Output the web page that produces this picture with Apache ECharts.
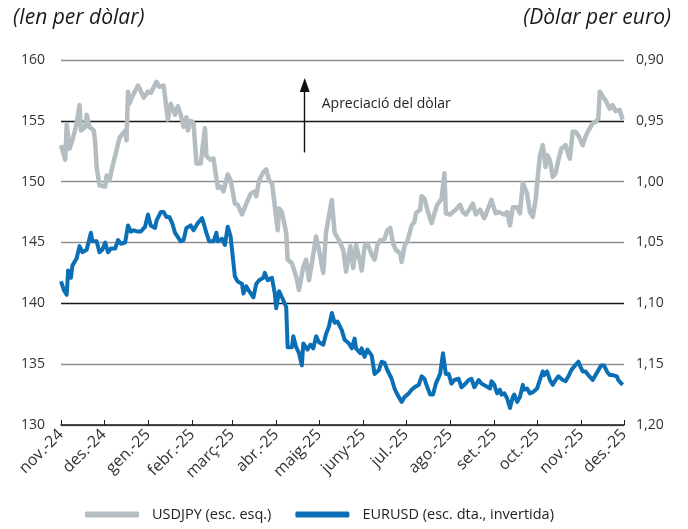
<!DOCTYPE html>
<html>
<head>
<meta charset="utf-8">
<script src="https://cdn.jsdelivr.net/npm/echarts@6/dist/echarts.min.js"></script>
<style>
    html, body {margin: 0; padding: 0; background: #fff;}
    #chart {width: 688px; height: 529px;}
</style>
</head>
<body>
<div id="chart"></div>
<script>
var monthLabels = ['nov.-24', 'des.-24', 'gen.-25', 'febr.-25', 'març-25', 'abr.-25', 'maig-25',
    'juny-25', 'jul.-25', 'ago.-25', 'set.-25', 'oct.-25', 'nov.-25', 'des.-25'];

// USDJPY, escala esquerra
var jpyDates = [
    '2024-11-01', '2024-11-04', '2024-11-05', '2024-11-07', '2024-11-09', '2024-11-12', '2024-11-14', '2024-11-15',
    '2024-11-18', '2024-11-19', '2024-11-21', '2024-11-24', '2024-11-25', '2024-11-26', '2024-11-28', '2024-12-02',
    '2024-12-03', '2024-12-05', '2024-12-07', '2024-12-10', '2024-12-12', '2024-12-16', '2024-12-17', '2024-12-18',
    '2024-12-19', '2024-12-21', '2024-12-25', '2024-12-26', '2024-12-29', '2025-01-01', '2025-01-03', '2025-01-07',
    '2025-01-09', '2025-01-12', '2025-01-15', '2025-01-17', '2025-01-20', '2025-01-22', '2025-01-24', '2025-01-26',
    '2025-01-28', '2025-01-29', '2025-01-31', '2025-02-02', '2025-02-04', '2025-02-07', '2025-02-10', '2025-02-11',
    '2025-02-14', '2025-02-16', '2025-02-19', '2025-02-21', '2025-02-23', '2025-02-26', '2025-02-28', '2025-03-03',
    '2025-03-05', '2025-03-08', '2025-03-11', '2025-03-14', '2025-03-17', '2025-03-18', '2025-03-20', '2025-03-23',
    '2025-03-25', '2025-03-27', '2025-03-29', '2025-03-31', '2025-04-02', '2025-04-03', '2025-04-05', '2025-04-08',
    '2025-04-09', '2025-04-12', '2025-04-13', '2025-04-15', '2025-04-17', '2025-04-20', '2025-04-22', '2025-04-24',
    '2025-04-26', '2025-04-29', '2025-05-01', '2025-05-04', '2025-05-06', '2025-05-07', '2025-05-10', '2025-05-12',
    '2025-05-15', '2025-05-18', '2025-05-20', '2025-05-23', '2025-05-25', '2025-05-27', '2025-05-30', '2025-05-31',
    '2025-06-02', '2025-06-04', '2025-06-07', '2025-06-09', '2025-06-11', '2025-06-13', '2025-06-16', '2025-06-18',
    '2025-06-20', '2025-06-22', '2025-06-24', '2025-06-27', '2025-06-28', '2025-06-30', '2025-07-02', '2025-07-05',
    '2025-07-07', '2025-07-08', '2025-07-11', '2025-07-12', '2025-07-14', '2025-07-16', '2025-07-19', '2025-07-21',
    '2025-07-23', '2025-07-26', '2025-07-28', '2025-07-29', '2025-08-01', '2025-08-03', '2025-08-05', '2025-08-08',
    '2025-08-10', '2025-08-12', '2025-08-15', '2025-08-17', '2025-08-19', '2025-08-22', '2025-08-25', '2025-08-28',
    '2025-08-30', '2025-09-02', '2025-09-04', '2025-09-06', '2025-09-08', '2025-09-10', '2025-09-12', '2025-09-14',
    '2025-09-17', '2025-09-19', '2025-09-21', '2025-09-24', '2025-09-26', '2025-09-28', '2025-09-30', '2025-10-02',
    '2025-10-03', '2025-10-05', '2025-10-07', '2025-10-08', '2025-10-10', '2025-10-12', '2025-10-14', '2025-10-16',
    '2025-10-18', '2025-10-21', '2025-10-23', '2025-10-24', '2025-10-26', '2025-10-28', '2025-10-30', '2025-11-02',
    '2025-11-04', '2025-11-06', '2025-11-09', '2025-11-11', '2025-11-13', '2025-11-14', '2025-11-16', '2025-11-18',
    '2025-11-19', '2025-11-21', '2025-11-23', '2025-11-25', '2025-11-28', '2025-11-30'
];
var jpyValues = [
    153.0, 151.8, 154.7, 152.7, 153.4, 154.8, 156.3, 154.2,
    154.5, 155.5, 154.5, 154.2, 153.2, 151.2, 149.7, 149.6,
    150.5, 150.1, 151.2, 152.6, 153.6, 154.2, 153.4, 157.4,
    156.4, 157.0, 157.9, 157.7, 156.9, 157.4, 157.3, 158.2,
    157.8, 157.9, 155.1, 156.4, 155.5, 156.2, 155.5, 154.5,
    155.3, 154.2, 155.0, 154.8, 151.5, 151.5, 154.4, 152.1,
    151.8, 151.9, 149.5, 149.6, 149.2, 150.6, 150.1, 148.2,
    148.1, 147.3, 148.2, 149.0, 149.2, 148.8, 150.1, 150.8,
    151.0, 150.1, 149.9, 148.0, 146.0, 147.8, 147.5, 145.8,
    143.6, 143.3, 143.2, 142.2, 141.1, 143.0, 143.6, 141.9,
    143.3, 145.5, 144.4, 142.5, 145.9, 146.0, 148.5, 145.8,
    145.2, 144.4, 142.6, 144.7, 142.9, 144.8, 143.3, 142.7,
    144.7, 144.9, 144.0, 143.6, 144.8, 145.2, 145.3, 146.0,
    146.2, 144.9, 144.4, 144.1, 143.4, 144.7, 145.1, 146.4,
    146.7, 147.4, 147.7, 148.8, 148.6, 147.7, 146.6, 147.4,
    148.1, 148.6, 150.7, 147.4, 147.3, 147.5, 147.7, 148.1,
    147.5, 147.3, 147.8, 148.2, 147.3, 147.7, 147.0, 147.9,
    148.5, 147.4, 147.5, 147.4, 147.3, 147.5, 146.4, 147.9,
    147.9, 147.4, 149.9, 149.0, 147.5, 147.1, 148.5, 151.0,
    152.1, 153.0, 151.2, 152.2, 151.8, 150.4, 150.7, 151.8,
    152.7, 153.0, 152.2, 151.9, 154.1, 154.1, 153.8, 153.0,
    153.7, 154.2, 154.8, 154.9, 155.2, 157.4, 157.0, 156.7,
    156.8, 156.0, 156.3, 155.8, 155.9, 155.1
];

// EURUSD, escala dreta invertida
var eurDates = [
    '2024-11-01', '2024-11-03', '2024-11-05', '2024-11-06', '2024-11-08', '2024-11-09', '2024-11-12', '2024-11-14',
    '2024-11-16', '2024-11-19', '2024-11-22', '2024-11-23', '2024-11-26', '2024-11-28', '2024-11-30', '2024-12-02',
    '2024-12-04', '2024-12-06', '2024-12-09', '2024-12-11', '2024-12-13', '2024-12-16', '2024-12-18', '2024-12-20',
    '2024-12-22', '2024-12-25', '2024-12-27', '2024-12-30', '2025-01-01', '2025-01-03', '2025-01-06', '2025-01-07',
    '2025-01-10', '2025-01-12', '2025-01-14', '2025-01-16', '2025-01-18', '2025-01-20', '2025-01-21', '2025-01-24',
    '2025-01-26', '2025-01-28', '2025-01-31', '2025-02-02', '2025-02-05', '2025-02-08', '2025-02-11', '2025-02-13',
    '2025-02-16', '2025-02-18', '2025-02-19', '2025-02-22', '2025-02-24', '2025-02-26', '2025-02-28', '2025-03-03',
    '2025-03-05', '2025-03-08', '2025-03-09', '2025-03-11', '2025-03-13', '2025-03-16', '2025-03-18', '2025-03-20',
    '2025-03-23', '2025-03-24', '2025-03-26', '2025-03-29', '2025-03-31', '2025-04-01', '2025-04-03', '2025-04-05',
    '2025-04-08', '2025-04-09', '2025-04-12', '2025-04-13', '2025-04-15', '2025-04-17', '2025-04-19', '2025-04-20',
    '2025-04-23', '2025-04-25', '2025-04-27', '2025-04-29', '2025-05-01', '2025-05-04', '2025-05-06', '2025-05-08',
    '2025-05-10', '2025-05-12', '2025-05-14', '2025-05-17', '2025-05-19', '2025-05-22', '2025-05-24', '2025-05-26',
    '2025-05-27', '2025-05-30', '2025-05-31', '2025-06-02', '2025-06-04', '2025-06-07', '2025-06-09', '2025-06-12',
    '2025-06-14', '2025-06-16', '2025-06-18', '2025-06-21', '2025-06-23', '2025-06-25', '2025-06-28', '2025-06-30',
    '2025-07-03', '2025-07-05', '2025-07-07', '2025-07-10', '2025-07-12', '2025-07-14', '2025-07-16', '2025-07-18',
    '2025-07-20', '2025-07-22', '2025-07-25', '2025-07-27', '2025-07-29', '2025-07-31', '2025-08-02', '2025-08-04',
    '2025-08-07', '2025-08-09', '2025-08-11', '2025-08-14', '2025-08-16', '2025-08-18', '2025-08-21', '2025-08-23',
    '2025-08-26', '2025-08-29', '2025-08-30', '2025-09-01', '2025-09-03', '2025-09-05', '2025-09-06', '2025-09-08',
    '2025-09-10', '2025-09-12', '2025-09-14', '2025-09-15', '2025-09-17', '2025-09-19', '2025-09-21', '2025-09-22',
    '2025-09-24', '2025-09-26', '2025-09-28', '2025-10-01', '2025-10-03', '2025-10-05', '2025-10-06', '2025-10-08',
    '2025-10-10', '2025-10-12', '2025-10-14', '2025-10-16', '2025-10-19', '2025-10-21', '2025-10-23', '2025-10-25',
    '2025-10-27', '2025-10-30', '2025-10-31', '2025-11-02', '2025-11-04', '2025-11-06', '2025-11-09', '2025-11-11',
    '2025-11-13', '2025-11-15', '2025-11-17', '2025-11-19', '2025-11-21', '2025-11-23', '2025-11-26', '2025-11-27',
    '2025-11-30'
];
var eurValues = [
    1.082, 1.089, 1.093, 1.073, 1.079, 1.069, 1.063, 1.053,
    1.058, 1.056, 1.042, 1.049, 1.049, 1.058, 1.056, 1.050,
    1.058, 1.055, 1.055, 1.048, 1.051, 1.050, 1.036, 1.041,
    1.040, 1.041, 1.041, 1.037, 1.027, 1.036, 1.038, 1.032,
    1.025, 1.025, 1.029, 1.029, 1.034, 1.042, 1.041, 1.049,
    1.048, 1.038, 1.036, 1.040, 1.034, 1.030, 1.042, 1.049,
    1.049, 1.042, 1.049, 1.047, 1.052, 1.037, 1.045, 1.078,
    1.082, 1.084, 1.092, 1.086, 1.090, 1.095, 1.084, 1.081,
    1.079, 1.075, 1.081, 1.079, 1.092, 1.104, 1.090, 1.095,
    1.103, 1.136, 1.136, 1.127, 1.136, 1.141, 1.151, 1.133,
    1.138, 1.134, 1.137, 1.127, 1.132, 1.134, 1.125, 1.119,
    1.108, 1.116, 1.115, 1.122, 1.130, 1.133, 1.137, 1.129,
    1.137, 1.141, 1.137, 1.144, 1.138, 1.143, 1.158, 1.155,
    1.148, 1.149, 1.155, 1.162, 1.170, 1.175, 1.181, 1.177,
    1.174, 1.171, 1.169, 1.167, 1.160, 1.162, 1.169, 1.175,
    1.175, 1.166, 1.158, 1.141, 1.158, 1.158, 1.166, 1.163,
    1.162, 1.169, 1.167, 1.163, 1.162, 1.169, 1.163, 1.166,
    1.168, 1.170, 1.164, 1.167, 1.174, 1.171, 1.175, 1.174,
    1.178, 1.186, 1.177, 1.175, 1.181, 1.177, 1.167, 1.171,
    1.170, 1.174, 1.173, 1.170, 1.163, 1.156, 1.159, 1.156,
    1.163, 1.167, 1.163, 1.160, 1.163, 1.164, 1.160, 1.155,
    1.152, 1.148, 1.151, 1.156, 1.156, 1.159, 1.163, 1.159,
    1.155, 1.151, 1.151, 1.156, 1.159, 1.159, 1.160, 1.163,
    1.167
];

function toTime(s) {
    var p = s.split('-');
    return new Date(+p[0], +p[1] - 1, +p[2]).getTime();
}

function pairs(dates, values) {
    return dates.map(function (d, i) { return [toTime(d), values[i]]; });
}

// first day of each month, nov-24 .. des-25
var monthStarts = monthLabels.map(function (lbl, i) {
    return new Date(2024, 10 + i, 1).getTime();
});

var arrowDay = toTime('2025-04-21');
var font = "'Open Sans', 'Noto Sans', sans-serif";
var myChart = echarts.init(document.getElementById('chart'));
var option = {
    animation: false,
    textStyle: {fontFamily: font},
    title: [
        {
            text: '(Ien per dòlar)', left: 8, top: 3,
            textStyle: {fontSize: 21, fontStyle: 'italic', fontWeight: 'normal', color: '#1a1a1a', fontFamily: font}
        },
        {
            text: '(Dòlar per euro)', right: 12, top: 3,
            textStyle: {fontSize: 21, fontStyle: 'italic', fontWeight: 'normal', color: '#1a1a1a', fontFamily: font}
        }
    ],
    grid: {left: 61, right: 64, top: 60, bottom: 104, outerBoundsMode: 'none'},
    legend: {
        left: 80,
        bottom: 2,
        icon: 'roundRect',
        itemWidth: 54,
        itemHeight: 6,
        itemGap: 24,
        textStyle: {fontSize: 14.5, color: '#222', fontFamily: font, padding: [0, 0, 0, 8]},
        data: ['USDJPY (esc. esq.)', 'EURUSD (esc. dta., invertida)']
    },
    xAxis: {
        type: 'value',
        min: monthStarts[0],
        max: monthStarts[monthStarts.length - 1],
        axisLine: {lineStyle: {color: '#1a1a1a', width: 1.5}},
        axisTick: {show: true, inside: true, length: 5, customValues: monthStarts, lineStyle: {color: '#1a1a1a'}},
        axisLabel: {
            customValues: monthStarts,
            rotate: 45,
            margin: 7,
            fontSize: 16,
            color: '#333',
            hideOverlap: false,
            formatter: function (v) {
                var d = new Date(v);
                var idx = (d.getFullYear() - 2024) * 12 + d.getMonth() - 10;
                return monthLabels[idx];
            }
        },
        splitLine: {show: false}
    },
    yAxis: [
        {
            type: 'value',
            min: 130,
            max: 160,
            interval: 5,
            axisLine: {show: false},
            axisTick: {show: false},
            axisLabel: {fontSize: 14, color: '#333', margin: 16},
            splitLine: {lineStyle: {color: ['#8f8f8f', '#8f8f8f', '#1a1a1a'], width: 1.3}}
        },
        {
            type: 'value',
            inverse: true,
            min: 0.90,
            max: 1.20,
            interval: 0.05,
            axisLine: {show: false},
            axisTick: {show: false},
            splitLine: {show: false},
            axisLabel: {
                fontSize: 14, color: '#333', margin: 12,
                formatter: function (v) { return v.toFixed(2).replace('.', ','); }
            }
        }
    ],
    series: [
        {
            name: 'USDJPY (esc. esq.)',
            type: 'line',
            yAxisIndex: 0,
            showSymbol: false,
            symbol: 'none',
            color: '#b4bdc1',
            lineStyle: {width: 4.5, color: '#b4bdc1', join: 'round'},
            data: pairs(jpyDates, jpyValues),
            markLine: {
                silent: true,
                symbol: 'none',
                label: {show: false},
                lineStyle: {color: '#111', width: 1.4, type: 'solid'},
                data: [[{coord: [arrowDay, 152.4]}, {coord: [arrowDay, 157.9]}]]
            },
            markPoint: {
                silent: true,
                data: [
                    {
                        coord: [arrowDay, 156.4],
                        symbol: 'circle',
                        symbolSize: 0,
                        label: {
                            show: true, position: 'right', distance: 17,
                            formatter: 'Apreciació del dòlar',
                            fontSize: 14, color: '#222', fontFamily: font
                        }
                    },
                    {
                        coord: [arrowDay, 157.95],
                        symbol: 'triangle',
                        symbolSize: [10, 14],
                        itemStyle: {color: '#111'},
                        label: {show: false}
                    }
                ]
            }
        },
        {
            name: 'EURUSD (esc. dta., invertida)',
            type: 'line',
            yAxisIndex: 1,
            showSymbol: false,
            symbol: 'none',
            color: '#0a6fb5',
            lineStyle: {width: 4, color: '#0a6fb5', join: 'round'},
            data: pairs(eurDates, eurValues)
        }
    ]
};
myChart.setOption(option);
</script>
</body>
</html>
